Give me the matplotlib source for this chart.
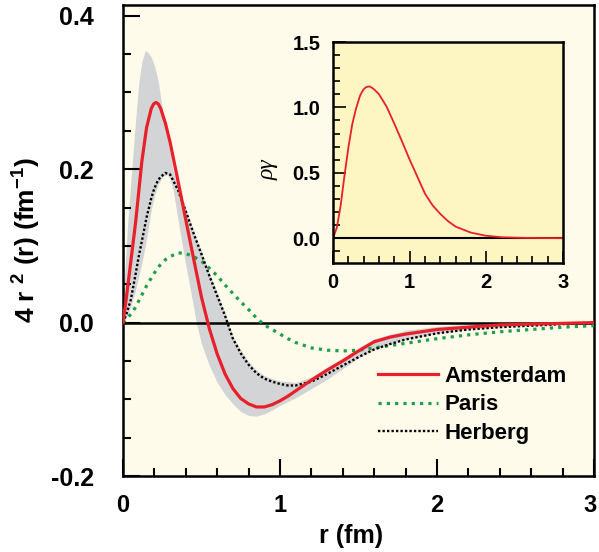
import numpy as np
import matplotlib.pyplot as plt
from matplotlib.ticker import MultipleLocator, FuncFormatter

plt.rcParams['font.family'] = ['Liberation Sans', 'DejaVu Sans']
plt.rcParams['font.weight'] = 'bold'
plt.rcParams['mathtext.fontset'] = 'custom'
plt.rcParams['mathtext.rm'] = 'Liberation Sans:bold'
plt.rcParams['mathtext.bf'] = 'Liberation Sans:bold'
plt.rcParams['mathtext.default'] = 'bf'

# r grid (fm) for the three curves
r = [0, 0.02, 0.05, 0.08, 0.1, 0.12, 0.15, 0.18, 0.195, 0.21, 0.225, 0.24, 0.27,
     0.3, 0.35, 0.4, 0.45, 0.5, 0.55, 0.6, 0.65, 0.7, 0.75, 0.8, 0.85, 0.9, 0.95,
     1.0, 1.05, 1.1, 1.2, 1.3, 1.4, 1.5, 1.6, 1.7, 1.8, 2.0, 2.2, 2.4, 2.6, 2.8, 3.0]

amsterdam = [0, 0.03, 0.08, 0.13, 0.17, 0.21, 0.254, 0.279, 0.285, 0.287, 0.285,
             0.279, 0.26, 0.235, 0.185, 0.134, 0.083, 0.033, -0.008, -0.041,
             -0.067, -0.086, -0.099, -0.106, -0.110, -0.110, -0.107, -0.102,
             -0.096, -0.089, -0.075, -0.062, -0.050, -0.037, -0.025, -0.019,
             -0.015, -0.009, -0.006, -0.003, -0.002, -0.001, 0]

paris = [0, 0.004, 0.011, 0.02, 0.028, 0.036, 0.048, 0.058, 0.063, 0.068, 0.072,
         0.076, 0.082, 0.086, 0.091, 0.090, 0.086, 0.080, 0.071, 0.061, 0.049,
         0.038, 0.027, 0.017, 0.006, -0.003, -0.009, -0.015, -0.021, -0.026,
         -0.033, -0.036, -0.037, -0.036, -0.033, -0.030, -0.027, -0.021, -0.016,
         -0.012, -0.009, -0.006, -0.004]

herberg = [0, 0.01, 0.03, 0.063, 0.086, 0.106, 0.137, 0.162, 0.172, 0.18, 0.186,
           0.19, 0.195, 0.193, 0.173, 0.145, 0.116, 0.089, 0.061, 0.035, 0.009,
           -0.021, -0.040, -0.055, -0.066, -0.073, -0.077, -0.080, -0.082, -0.082,
           -0.077, -0.067, -0.056, -0.045, -0.035, -0.028, -0.022, -0.014, -0.009,
           -0.006, -0.004, -0.002, -0.001]

# uncertainty band
r_band = [0, 0.01, 0.03, 0.05, 0.075, 0.1, 0.12, 0.142, 0.16, 0.18, 0.2, 0.223,
          0.25, 0.28, 0.3, 0.32, 0.34, 0.37, 0.4, 0.43, 0.467, 0.5, 0.55, 0.6,
          0.65, 0.7, 0.75, 0.8, 0.85, 0.9, 0.95, 1.0, 1.1, 1.2, 1.3, 1.4, 1.5,
          1.6, 1.8, 2.0, 2.2, 2.4, 2.6, 2.8, 3.0]
band_lo = [0, 0.003, 0.01, 0.022, 0.038, 0.06, 0.077, 0.1, 0.122, 0.147, 0.165,
           0.179, 0.19, 0.193, 0.188, 0.172, 0.147, 0.11, 0.075, 0.042, 0, -0.028,
           -0.056, -0.078, -0.094, -0.106, -0.116, -0.121, -0.122, -0.119, -0.114,
           -0.108, -0.098, -0.086, -0.074, -0.060, -0.046, -0.035, -0.022, -0.014,
           -0.009, -0.006, -0.004, -0.002, -0.001]
band_hi = [0, 0.06, 0.13, 0.185, 0.25, 0.312, 0.34, 0.355, 0.352, 0.346, 0.335,
           0.316, 0.28, 0.243, 0.222, 0.197, 0.183, 0.166, 0.149, 0.131, 0.11,
           0.093, 0.065, 0.039, 0.012, -0.018, -0.036, -0.051, -0.062, -0.069,
           -0.073, -0.076, -0.078, -0.071, -0.058, -0.046, -0.033, -0.021, -0.010,
           -0.005, -0.002, -0.001, 0, 0, 0]

# inset curve
r_in = [0, 0.05, 0.1, 0.15, 0.2, 0.25, 0.3, 0.35, 0.375, 0.4, 0.425, 0.45, 0.475,
        0.5, 0.525, 0.55, 0.6, 0.7, 0.8, 0.9, 1.0, 1.1, 1.2, 1.3, 1.4, 1.5, 1.6,
        1.8, 2.0, 2.2, 2.5, 3.0]
rho_gamma = [0, 0.08, 0.25, 0.48, 0.69, 0.868, 0.99, 1.085, 1.115, 1.138, 1.152,
             1.158, 1.16, 1.153, 1.143, 1.13, 1.10, 1.005, 0.875, 0.74, 0.60, 0.47,
             0.34, 0.25, 0.185, 0.13, 0.088, 0.042, 0.018, 0.007, 0.002, 0]

fig = plt.figure(figsize=(5.99, 5.52), dpi=100)
ax = fig.add_axes([123/599, 1-476/552, 471/599, 471/552])
ax.set_facecolor('#fffbea')

ax.fill_between(r_band, band_lo, band_hi, color='#d3d4d6', lw=0, zorder=1)
ax.axhline(0, color='black', lw=1.8, zorder=2)
ax.plot(r, amsterdam, color='#e8202a', lw=2.3, label='Amsterdam', zorder=4)
ax.plot(r, paris, color='#1f9e4a', lw=2.3, ls=(0, (1, 1.6)), label='Paris', zorder=3)
ax.plot(r, herberg, color='black', lw=1.7, ls=(0, (1, 0.9)), label='Herberg', zorder=3)

ax.set_xlim(0, 3)
ax.set_ylim(-0.2, 0.414)
ax.xaxis.set_major_locator(MultipleLocator(1))
ax.xaxis.set_minor_locator(MultipleLocator(0.2))
ax.yaxis.set_major_locator(MultipleLocator(0.2))
ax.yaxis.set_minor_locator(MultipleLocator(0.05))
ax.yaxis.set_major_formatter(plt.FormatStrFormatter('%.1f'))
# the "3" at the right edge is written separately, nudged inward
ax.xaxis.set_major_formatter(FuncFormatter(lambda v, p: '' if v > 2.5 else '%d' % v))
ax.annotate('3', xy=(3, 0), xycoords=('data', 'axes fraction'),
            xytext=(-3, -13), textcoords='offset points',
            ha='center', va='top', fontsize=17, fontweight='bold')
ax.tick_params(which='both', direction='in', width=1.5)
ax.tick_params(which='major', length=12)
ax.tick_params(which='minor', length=6)
ax.tick_params(axis='y', which='major', pad=21, labelsize=18)
ax.tick_params(axis='x', which='major', pad=13, labelsize=17)
for s in ax.spines.values():
    s.set_linewidth(1.8)

ax.set_xlabel('r (fm)', fontsize=18, fontweight='bold')
ax.xaxis.set_label_coords(0.485, -0.102)
ax.set_ylabel(r'4 r $^{2}$ (r) (fm$^{-1}$)', fontsize=19, fontweight='bold')
ax.yaxis.set_label_coords(-0.17, 0.5)

leg = ax.legend(loc='center left', bbox_to_anchor=(0.541, 0.151), frameon=False,
                fontsize=16, handlelength=2.7, handletextpad=0.3,
                labelspacing=0.33, borderpad=0, borderaxespad=0)

# inset
axi = fig.add_axes([333/599, 1-263/552, 230/599, 221/552])
axi.set_facecolor('#fdf5c2')
axi.axhline(0, color='black', lw=1.5)
axi.plot(r_in, rho_gamma, color='#e8202a', lw=1.3)
axi.set_xlim(0, 3)
axi.set_ylim(-0.19, 1.5)
axi.xaxis.set_major_locator(MultipleLocator(1))
axi.xaxis.set_minor_locator(MultipleLocator(0.2))
axi.yaxis.set_major_locator(MultipleLocator(0.5))
axi.yaxis.set_minor_locator(MultipleLocator(0.1))
axi.yaxis.set_major_formatter(plt.FormatStrFormatter('%.1f'))
axi.tick_params(which='both', direction='in', width=1.2, labelsize=14.5)
axi.tick_params(which='major', length=9)
axi.tick_params(which='minor', length=5)
axi.tick_params(axis='y', pad=9)
axi.tick_params(axis='x', pad=7)
for s in axi.spines.values():
    s.set_linewidth(1.8)
axi.set_ylabel('ργ', fontsize=17, family='Liberation Serif', style='italic',
               fontweight='normal')
axi.yaxis.set_label_coords(-0.235, 0.42)

fig.savefig('out.png', dpi=100)
